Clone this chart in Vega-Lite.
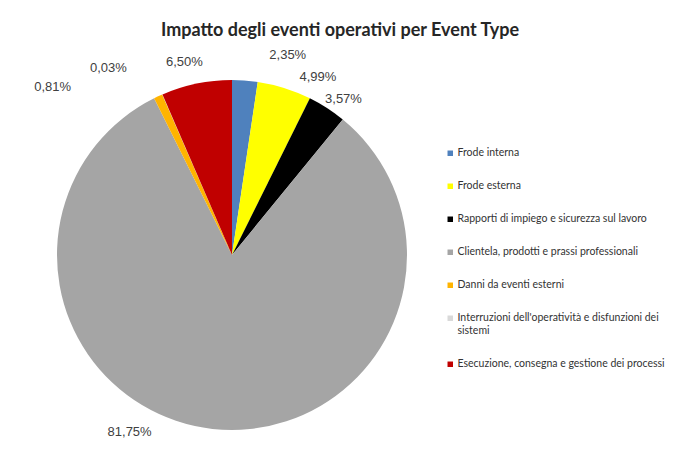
{
  "$schema": "https://vega.github.io/schema/vega-lite/v6.json",
  "width": 350,
  "height": 350,
  "autosize": "none",
  "padding": {"left": 57, "top": 80, "right": 267, "bottom": 34},
  "background": "white",
  "config": {
    "view": {"stroke": null},
    "locale": {"number": {"decimal": ",", "thousands": ".", "grouping": [3], "currency": ["€", ""]}}
  },
  "title": {
    "text": "Impatto degli eventi operativi per Event Type",
    "font": "Lato",
    "fontSize": 18,
    "fontWeight": "bold",
    "color": "#262626",
    "anchor": "middle",
    "frame": "group",
    "dx": 108,
    "offset": -12
  },
  "data": {
    "values": [
      {"idx": 1, "Event": "Frode interna", "Share": 0.0235},
      {"idx": 2, "Event": "Frode esterna", "Share": 0.0499},
      {"idx": 3, "Event": "Rapporti di impiego e sicurezza sul lavoro", "Share": 0.0357},
      {"idx": 4, "Event": "Clientela, prodotti e prassi professionali", "Share": 0.8175},
      {"idx": 5, "Event": "Danni da eventi esterni", "Share": 0.0081},
      {"idx": 6, "Event": "Interruzioni dell'operatività e disfunzioni dei sistemi", "Share": 0.0003},
      {"idx": 7, "Event": "Esecuzione, consegna e gestione dei processi", "Share": 0.065}
    ]
  },
  "encoding": {
    "theta": {"field": "Share", "type": "quantitative", "stack": true},
    "order": {"field": "idx", "type": "quantitative"}
  },
  "layer": [
    {
      "mark": {"type": "arc"},
      "encoding": {
        "color": {
          "field": "Event",
          "type": "nominal",
          "scale": {
            "domain": ["Frode interna", "Frode esterna", "Rapporti di impiego e sicurezza sul lavoro", "Clientela, prodotti e prassi professionali", "Danni da eventi esterni", "Interruzioni dell'operatività e disfunzioni dei sistemi", "Esecuzione, consegna e gestione dei processi"],
            "range": ["#4F81BD", "#FFFF00", "#000000", "#A5A5A5", "#FFB400", "#D9D9D9", "#C00000"]
          },
          "legend": {
            "title": null,
            "orient": "none",
            "legendX": 388,
            "legendY": 68,
            "padding": 0,
            "symbolType": "square",
            "symbolSize": 30,
            "symbolStrokeWidth": 0,
            "labelFont": "Lato",
            "labelFontSize": 10.5,
            "labelColor": "#333333",
            "labelOffset": 2,
            "labelLimit": 300,
            "rowPadding": 22,
            "labelExpr": "datum.label === \"Interruzioni dell'operatività e disfunzioni dei sistemi\" ? [\"Interruzioni dell'operatività e disfunzioni dei\", \"sistemi\"] : datum.label"
          }
        }
      }
    },
    {
      "mark": {"type": "text", "radius": 200, "dx": 41, "dy": -1, "font": "Liberation Sans", "fontSize": 13, "fill": "#404040"},
      "encoding": {"text": {"condition": {"test": "datum.idx === 1", "field": "Share", "type": "quantitative", "format": ".2%"}, "value": ""}}
    },
    {
      "mark": {"type": "text", "radius": 200, "dx": 26, "dy": 13, "font": "Liberation Sans", "fontSize": 13, "fill": "#404040"},
      "encoding": {"text": {"condition": {"test": "datum.idx === 2", "field": "Share", "type": "quantitative", "format": ".2%"}, "value": ""}}
    },
    {
      "mark": {"type": "text", "radius": 200, "dx": 3, "dy": 12, "font": "Liberation Sans", "fontSize": 13, "fill": "#404040"},
      "encoding": {"text": {"condition": {"test": "datum.idx === 3", "field": "Share", "type": "quantitative", "format": ".2%"}, "value": ""}}
    },
    {
      "mark": {"type": "text", "radius": 200, "dx": -80, "dy": -22, "font": "Liberation Sans", "fontSize": 13, "fill": "#404040"},
      "encoding": {"text": {"condition": {"test": "datum.idx === 4", "field": "Share", "type": "quantitative", "format": ".2%"}, "value": ""}}
    },
    {
      "mark": {"type": "text", "radius": 200, "dx": -95, "dy": 13, "font": "Liberation Sans", "fontSize": 13, "fill": "#404040"},
      "encoding": {"text": {"condition": {"test": "datum.idx === 5", "field": "Share", "type": "quantitative", "format": ".2%"}, "value": ""}}
    },
    {
      "mark": {"type": "text", "radius": 200, "dx": -44, "dy": -4, "font": "Liberation Sans", "fontSize": 13, "fill": "#404040"},
      "encoding": {"text": {"condition": {"test": "datum.idx === 6", "field": "Share", "type": "quantitative", "format": ".2%"}, "value": ""}}
    },
    {
      "mark": {"type": "text", "radius": 200, "dx": -7, "dy": 3, "font": "Liberation Sans", "fontSize": 13, "fill": "#404040"},
      "encoding": {"text": {"condition": {"test": "datum.idx === 7", "field": "Share", "type": "quantitative", "format": ".2%"}, "value": ""}}
    }
  ]
}
